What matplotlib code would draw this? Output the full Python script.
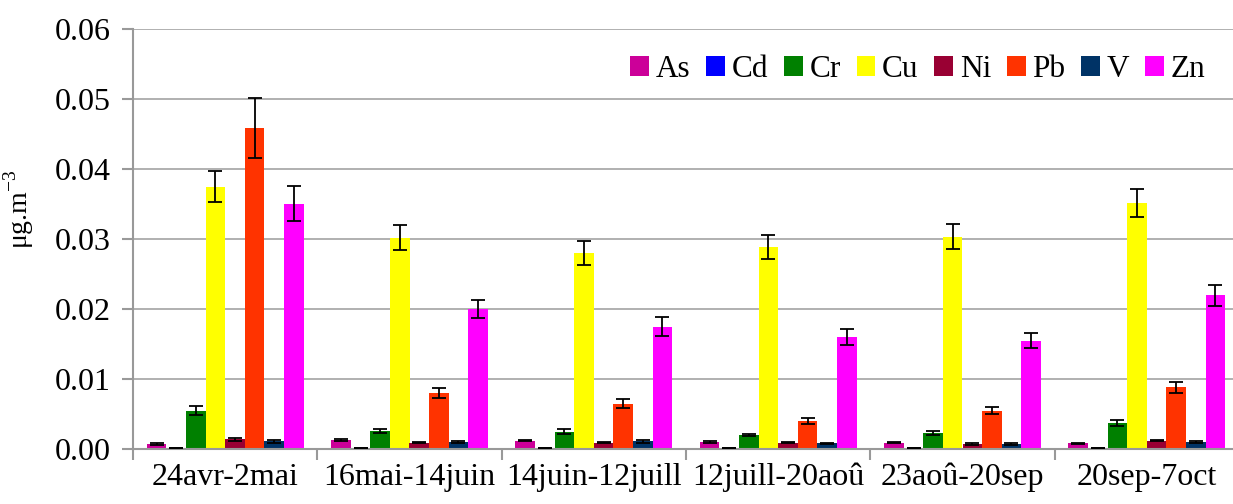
import matplotlib
matplotlib.use("Agg")
import matplotlib.pyplot as plt
import numpy as np

plt.rcParams['font.family'] = ['Liberation Serif', 'DejaVu Serif']
plt.rcParams['mathtext.fontset'] = 'custom'
plt.rcParams['mathtext.rm'] = 'Liberation Serif'

periods = ["24avr-2mai", "16mai-14juin", "14juin-12juill", "12juill-20aoû", "23aoû-20sep", "20sep-7oct"]
metals = ["As", "Cd", "Cr", "Cu", "Ni", "Pb", "V", "Zn"]
colors = ["#CC0099", "#0000FF", "#008000", "#FFFF00", "#990033", "#FF3300", "#003366", "#FF00FF"]

As = [0.0007, 0.0013, 0.0012, 0.0010, 0.0009, 0.0008]
Cd = [0.0001, 0.0001, 0.0001, 0.0001, 0.0001, 0.0001]
Cr = [0.0055, 0.0026, 0.0025, 0.0020, 0.0023, 0.0037]
Cu = [0.0375, 0.0302, 0.0280, 0.0288, 0.0303, 0.0352]
Ni = [0.0014, 0.0009, 0.0009, 0.0009, 0.0007, 0.0012]
Pb = [0.0459, 0.0080, 0.0065, 0.0040, 0.0055, 0.0088]
V = [0.0011, 0.0010, 0.0011, 0.0008, 0.0007, 0.0010]
Zn = [0.0350, 0.0200, 0.0175, 0.0160, 0.0155, 0.0220]

As_err = [0.0001, 0.0001, 0.0001, 0.0001, 0.0001, 0.0001]
Cd_err = [0.0, 0.0, 0.0, 0.0, 0.0, 0.0]
Cr_err = [0.0006, 0.0003, 0.0003, 0.0002, 0.0003, 0.0004]
Cu_err = [0.0022, 0.0018, 0.0017, 0.0017, 0.0018, 0.0020]
Ni_err = [0.0002, 0.0001, 0.0001, 0.0001, 0.0001, 0.0001]
Pb_err = [0.0043, 0.0007, 0.0006, 0.0004, 0.0005, 0.0008]
V_err = [0.0002, 0.0002, 0.0002, 0.0001, 0.0001, 0.0002]
Zn_err = [0.0025, 0.0013, 0.0013, 0.0011, 0.0011, 0.0015]

values = [As, Cd, Cr, Cu, Ni, Pb, V, Zn]
errors = [As_err, Cd_err, Cr_err, Cu_err, Ni_err, Pb_err, V_err, Zn_err]

fig = plt.figure(figsize=(12.33, 5.04), dpi=100)
left = 133 / 1233
right = 1239 / 1233
top = 1 - 29 / 504
bottom = 1 - 449 / 504
ax = fig.add_axes([left, bottom, right - left, top - bottom])

n = len(metals)
group_w = 0.85
bw = group_w / n
x = np.arange(len(periods))
for i, (m, c, v, e) in enumerate(zip(metals, colors, values, errors)):
    pos = x - group_w / 2 + bw * (i + 0.5)
    ax.bar(pos, v, width=bw, color=c, label=m, zorder=2)
    ax.errorbar(pos, v, yerr=e, fmt='none', ecolor='black', elinewidth=1.3,
                capsize=5, capthick=1.3, zorder=3)

ax.set_xlim(-0.5, len(periods) - 0.5)
ax.set_ylim(0, 0.06)
yt = np.arange(0, 0.0601, 0.01)
ax.set_yticks(yt)
ax.set_yticklabels([f"{t:.2f}" for t in yt], fontsize=23)
ax.set_xticks(x)
ax.set_xticklabels(periods, fontsize=23)
ax.set_xticks(np.arange(-0.5, len(periods)), minor=True)
ax.tick_params(axis='x', which='major', length=0, pad=10)
ax.tick_params(axis='x', which='minor', length=8, color='#999999', width=1.5)
ax.tick_params(axis='y', length=8, color='#999999', width=1.5, pad=8)
ax.grid(axis='y', color='#AAAAAA', linewidth=1.3, zorder=0)
ax.set_axisbelow(True)
for s in ['top', 'right']:
    ax.spines[s].set_visible(False)
for s in ['left', 'bottom']:
    ax.spines[s].set_color('#999999')
    ax.spines[s].set_linewidth(1.5)

ax.set_ylabel("μg.m$^{\\mathregular{-3}}$", fontsize=20, labelpad=8)
ax.yaxis.set_label_coords(-0.088, 0.57)

ax.legend(ncol=8, loc='upper right', bbox_to_anchor=(0.995, 1.005), frameon=False,
          fontsize=22.5, handlelength=0.6, handleheight=0.6, handletextpad=0.22,
          columnspacing=0.5)

fig.savefig("out.png", dpi=100)
